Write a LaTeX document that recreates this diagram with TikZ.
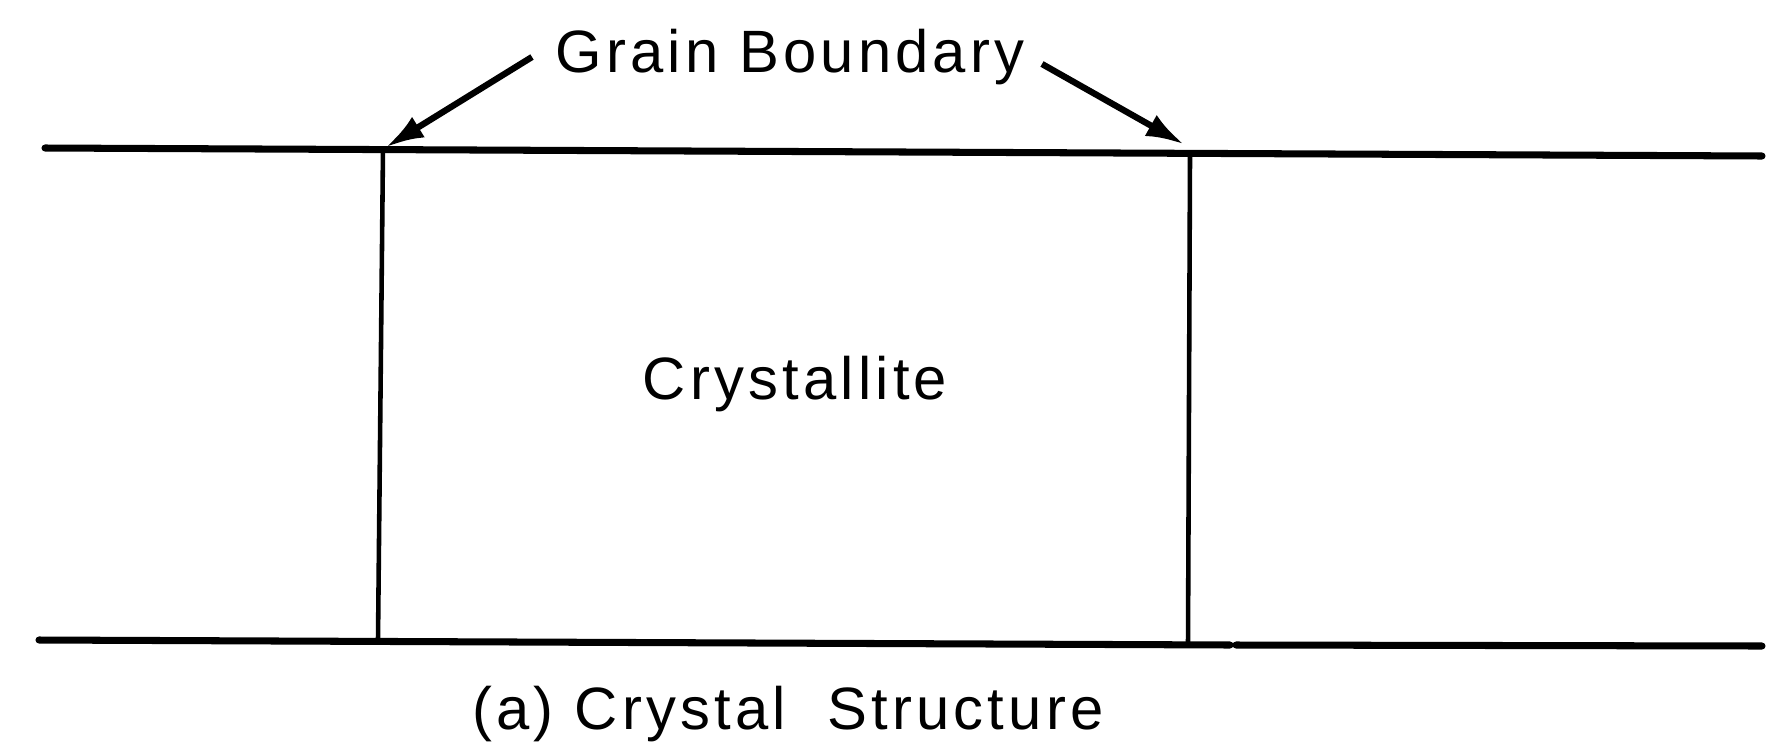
\documentclass[tikz,border=0pt]{standalone}
\usepackage{fontspec}
\setmainfont{Liberation Sans}
\newfontfamily\labelfont[LetterSpace=7]{Liberation Sans}
\usepackage{tikz}
\usetikzlibrary{arrows.meta,positioning}

\begin{document}
\begin{tikzpicture}[
    x=0.01cm, y=-0.01cm,
    >={Latex[length=0.38cm,width=0.24cm]},
    layer/.style={line width=2pt, line cap=round},
    boundary/.style={line width=1.3pt},
    pointer/.style={->, line width=1.8pt, shorten >=1pt},
    caption/.style={font=\labelfont\fontsize{17}{20}\selectfont, inner sep=0pt}
]
\useasboundingbox (0,0) rectangle (1769,751);

% top and bottom of the film
\coordinate (tl) at (45,148);
\coordinate (tr) at (1762,156);
\coordinate (bl) at (39,640);
\coordinate (bm) at (1230,645);
\coordinate (bn) at (1236,645);
\coordinate (br) at (1762,646);

% grain boundaries
\coordinate (g1top) at (383,149);
\coordinate (g1bot) at (378,640);
\coordinate (g2top) at (1190,157);
\coordinate (g2bot) at (1188,645);

\node[caption] (gb) at (790,57) {Grain\ Boundary};
\node[caption] (cryst) at (795,384) {Crystallite};
\node[caption] (title) at (788,714) {(a)\ Crystal\ \ Structure};

\coordinate (gtail1) at (532,57);
\coordinate (gtail2) at (1042,64);

\draw[layer] (tl) -- (tr);
\draw[layer] (bl) -- (bm);
\draw[layer] (bn) -- (br);
\draw[boundary] (g1top) -- (g1bot);
\draw[boundary] (g2top) -- (g2bot);

\draw[pointer] (gtail1) -- (g1top);
\draw[pointer] (gtail2) -- (1187,146);
\end{tikzpicture}
\end{document}
